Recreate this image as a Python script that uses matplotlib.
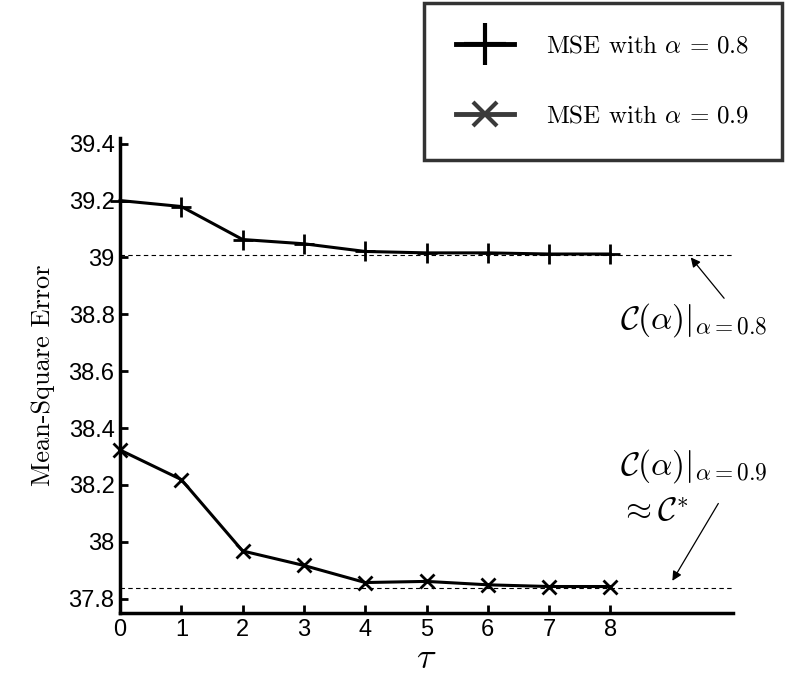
import matplotlib
matplotlib.use("Agg")
import matplotlib.pyplot as plt
from matplotlib.lines import Line2D

plt.rcParams.update({
    "font.family": ["Liberation Sans", "DejaVu Sans"],
    "mathtext.fontset": "cm",
})

tau = [0, 1, 2, 3, 4, 5, 6, 7, 8]
mse_08 = [39.20, 39.179, 39.063, 39.048, 39.021, 39.016, 39.016, 39.012, 39.012]
mse_09 = [38.323, 38.219, 37.968, 37.917, 37.857, 37.861, 37.849, 37.843, 37.843]
limit_08 = 39.010
limit_09 = 37.838
yticks = [37.8, 38.0, 38.2, 38.4, 38.6, 38.8, 39.0, 39.2, 39.4]
yticklabels = ["37.8", "38", "38.2", "38.4", "38.6", "38.8", "39", "39.2", "39.4"]

fig = plt.figure(figsize=(7.85, 6.75), dpi=100)
ax = fig.add_axes([0.1529, 0.0919, 0.7809, 0.7037])

ax.axhline(limit_08, color="black", lw=0.8, ls=(0, (4, 3)), zorder=1)
ax.axhline(limit_09, color="black", lw=0.8, ls=(0, (4, 3)), zorder=1)

ax.plot(tau, mse_08, color="black", lw=2.2, marker="+", ms=15, mew=2.0,
        clip_on=False, zorder=3)
ax.plot(tau, mse_09, color="black", lw=2.2, marker="x", ms=10, mew=2.0,
        clip_on=False, zorder=3)

ax.set_xlim(0, 10)
ax.set_ylim(37.75, 39.42)
ax.set_xticks(tau)
ax.set_yticks(yticks)
ax.set_yticklabels(yticklabels)
ax.tick_params(direction="in", length=6, width=2, labelsize=17, pad=4)
for s in ("top", "right"):
    ax.spines[s].set_visible(False)
for s in ("left", "bottom"):
    ax.spines[s].set_linewidth(2.5)

ax.set_xlabel(r"$\tau$", fontsize=26, labelpad=0)
ax.set_ylabel("Mean-Square Error", family="cmr10", fontsize=19, labelpad=10)

ax.annotate(r"$\mathcal{C}(\alpha)|_{\alpha=0.8}$", xy=(9.31, 39.0),
            xytext=(8.16, 38.78), fontsize=24, va="center", ha="left",
            annotation_clip=False,
            arrowprops=dict(arrowstyle="-|>", color="black", lw=0.9,
                            mutation_scale=14, shrinkA=0, shrinkB=0,
                            relpos=(0.72, 1.0)))
ax.text(8.16, 38.265, r"$\mathcal{C}(\alpha)|_{\alpha=0.9}$", fontsize=24,
        va="center", ha="left", clip_on=False)
ax.text(8.16, 38.103, r"$\approx\mathcal{C}^{*}$", fontsize=24,
        va="center", ha="left", clip_on=False)
ax.annotate("", xy=(9.01, 37.863), xytext=(9.76, 38.135),
            annotation_clip=False,
            arrowprops=dict(arrowstyle="-|>", color="black", lw=0.9,
                            mutation_scale=14, shrinkA=0, shrinkB=0))

handles = [
    Line2D([], [], color="black", lw=3.5, marker="+", ms=30, mew=3),
    Line2D([], [], color="#3a3a3a", lw=3.5, marker="x", ms=17, mew=3),
]
labels = [r"MSE with $\alpha\,=\,0.8$", r"MSE with $\alpha\,=\,0.9$"]
leg = fig.legend(handles, labels, loc="upper right",
                 bbox_to_anchor=(0.996, 0.996), prop={"family": "cmr10", "size": 18},
                 handlelength=2.3, handletextpad=1.3, labelspacing=1.9,
                 borderpad=1.3, borderaxespad=0, fancybox=False,
                 frameon=True, edgecolor="black")
leg.get_frame().set_linewidth(2.5)

fig.savefig("out.png", dpi=100)
